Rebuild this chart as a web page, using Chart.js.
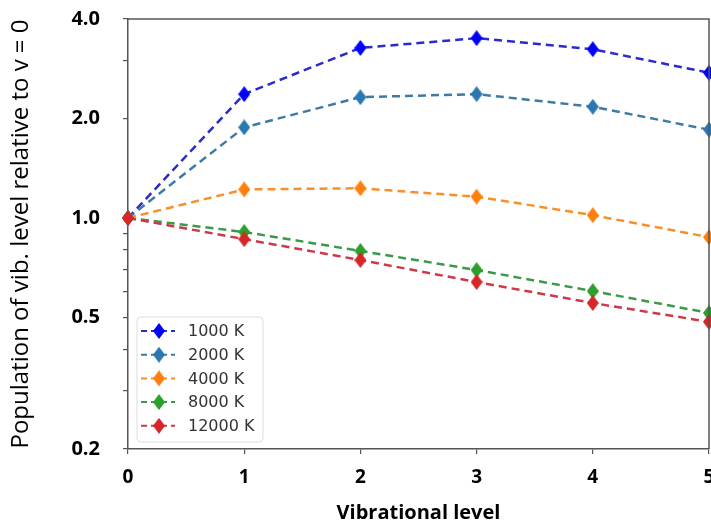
<!DOCTYPE html>
<html>
<head>
<meta charset="utf-8">
<script src="https://cdn.jsdelivr.net/npm/chart.js@4"></script>
<style>
body { margin: 0; overflow: hidden; background: #fff; }
</style>
</head>
<body>
<canvas id="chart" width="716" height="527"></canvas>
<script>
const levels = ['0', '1', '2', '3', '4', '5'];
const pop1000 = [1.0, 2.37, 3.27, 3.50, 3.24, 2.75];
const pop2000 = [1.0, 1.88, 2.32, 2.37, 2.17, 1.85];
const pop4000 = [1.0, 1.22, 1.23, 1.16, 1.02, 0.875];
const pop8000 = [1.0, 0.907, 0.795, 0.696, 0.601, 0.516];
const pop12000 = [1.0, 0.863, 0.746, 0.64, 0.553, 0.485];

const yTicks = [0.2, 0.3, 0.4, 0.5, 0.6, 0.7, 0.8, 0.9, 1, 2, 3, 4];
const yLabels = [0.2, 0.5, 1, 2, 4];

const AXIS = '#555';

// thin diamond marker like matplotlib 'd'
function diamond(color) {
    const c = document.createElement('canvas');
    c.width = 12;
    c.height = 16;
    const g = c.getContext('2d');
    g.fillStyle = color;
    g.beginPath();
    g.moveTo(6, 0);
    g.lineTo(12, 8);
    g.lineTo(6, 16);
    g.lineTo(0, 8);
    g.closePath();
    g.fill();
    return c;
}

function series(label, data, line, mark, order) {
    return {
        label: label,
        data: data,
        borderColor: line,
        borderWidth: 2.5,
        borderDash: [8, 5],
        pointStyle: diamond(mark),
        pointRadius: 7,
        tension: 0,
        fill: false,
        order: order,
    };
}

const frame = {
    id: 'frame',
    afterDraw(chart) {
        const a = chart.chartArea;
        const ctx = chart.ctx;
        ctx.save();
        ctx.strokeStyle = AXIS;
        ctx.lineWidth = 1.5;
        ctx.beginPath();
        ctx.moveTo(a.left, a.top);
        ctx.lineTo(a.right, a.top);
        ctx.lineTo(a.right, a.bottom);
        ctx.stroke();
        ctx.restore();
    }
};

const boxLegend = {
    id: 'boxLegend',
    afterDatasetsDraw(chart) {
        const ctx = chart.ctx;
        const x = 137, y = 317, w = 126, h = 125;
        ctx.save();
        ctx.fillStyle = 'rgba(255,255,255,0.85)';
        ctx.strokeStyle = '#ddd';
        ctx.lineWidth = 1;
        ctx.beginPath();
        ctx.roundRect(x, y, w, h, 4);
        ctx.fill();
        ctx.stroke();
        ctx.font = '16px "DejaVu Sans"';
        ctx.textBaseline = 'middle';
        chart.data.datasets.forEach((ds, i) => {
            const ry = 331 + i * 23.7;
            ctx.strokeStyle = ds.borderColor;
            ctx.lineWidth = 2;
            ctx.setLineDash([6, 4]);
            ctx.beginPath();
            ctx.moveTo(141, ry);
            ctx.lineTo(175, ry);
            ctx.stroke();
            ctx.setLineDash([]);
            ctx.drawImage(ds.pointStyle, 153, ry - 8);
            ctx.fillStyle = '#333';
            ctx.fillText(ds.label, 188, ry + 1);
        });
        ctx.restore();
    }
};

const chart = new Chart(document.getElementById('chart').getContext('2d'), {
    type: 'line',
    data: {
        labels: levels,
        datasets: [
            series('1000 K', pop1000, '#2b2bcc', '#0000ff', 0),
            series('2000 K', pop2000, '#3f7aa3', '#2a78b0', -1),
            series('4000 K', pop4000, '#f5902a', '#ff7f0e', -2),
            series('8000 K', pop8000, '#3a9a4a', '#2ca02c', -3),
            series('12000 K', pop12000, '#cc3a4a', '#d62728', -4),
        ]
    },
    options: {
        responsive: false,
        animation: false,
        layout: { autoPadding: false, padding: { top: 19, left: 0, right: 7, bottom: 0 } },
        plugins: {
            legend: { display: false },
            tooltip: { enabled: false },
        },
        scales: {
            x: {
                afterFit: (s) => {
                    s.height = 78;
                    s.paddingLeft = 0;
                    s.paddingRight = 0;
                },
                ticks: {
                    font: { family: 'Open Sans', weight: 'bold', size: 19 },
                    color: '#000',
                    padding: 12,
                },
                grid: { drawOnChartArea: false, tickLength: 5, color: AXIS, lineWidth: 1.2 },
                border: { color: AXIS, width: 1.5 },
                title: {
                    display: true,
                    text: 'Vibrational level',
                    font: { family: 'Open Sans', weight: 'bold', size: 20 },
                    color: '#000',
                    padding: { top: 0, bottom: 2 },
                },
            },
            y: {
                type: 'logarithmic',
                min: 0.2,
                max: 4,
                afterBuildTicks: (s) => { s.ticks = yTicks.map(v => ({ value: v })); },
                afterFit: (s) => {
                    s.width = 128;
                    s.paddingTop = 0;
                    s.paddingBottom = 0;
                },
                ticks: {
                    autoSkip: false,
                    callback: (v) => yLabels.includes(v) ? v.toFixed(1) : '',
                    font: { family: 'Open Sans', weight: 'bold', size: 20 },
                    color: '#000',
                    padding: 23,
                },
                grid: { drawOnChartArea: false, tickLength: 5, color: AXIS, lineWidth: 1.2 },
                border: { color: AXIS, width: 1.5 },
                title: {
                    display: true,
                    text: 'Population of vib. level relative to v = 0',
                    font: { family: 'Open Sans', size: 24 },
                    color: '#000',
                    padding: { top: 7, bottom: 0 },
                },
            }
        }
    },
    plugins: [frame, boxLegend]
});
</script>
</body>
</html>
